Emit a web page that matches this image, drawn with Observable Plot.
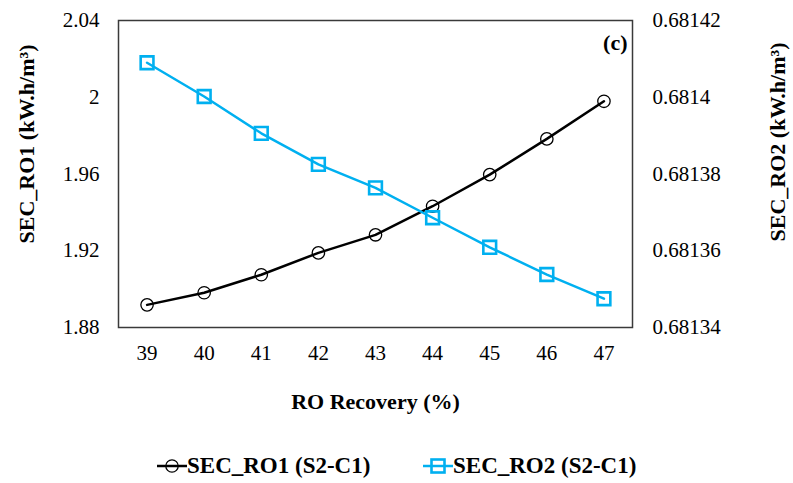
<!DOCTYPE html>
<html>
<head>
<meta charset="utf-8">
<script src="https://cdn.jsdelivr.net/npm/d3@7"></script>
<script src="https://cdn.jsdelivr.net/npm/@observablehq/plot@0.6"></script>
<style>
  html, body { margin: 0; padding: 0; background: #fff; }
  #wrap { position: relative; width: 793px; height: 483px; overflow: hidden; }
  #legend { position: absolute; left: 0; top: 448px; width: 793px; height: 35px;
            font-family: "Liberation Serif", "Times New Roman", serif;
            font-weight: bold; font-size: 23px; color: #000; }
  .item { position: absolute; top: 0; height: 35px; display: flex; align-items: center; white-space: nowrap; }
  .item svg { display: block; }
</style>
</head>
<body>
<div id="wrap">
  <div id="chart"></div>
  <div id="legend"></div>
</div>
<script>
// RO recovery (%) on the shared x axis
const recovery = [39, 40, 41, 42, 43, 44, 45, 46, 47];
// Specific energy consumption of the first RO stage (left axis, kW.h/m³)
const secRO1 = [1.8918, 1.8981, 1.9075, 1.9189, 1.9283, 1.9432, 1.9597, 1.9783, 1.9979];
// Specific energy consumption of the second RO stage (right axis, kW.h/m³)
const secRO2 = [0.681409, 0.6814002, 0.6813906, 0.6813825, 0.6813764, 0.6813686, 0.6813609, 0.6813538, 0.6813475];

const xTicks = recovery;
const leftTicks = [1.88, 1.92, 1.96, 2, 2.04];
const rightTicks = [0.68134, 0.68136, 0.68138, 0.6814, 0.68142];

const seriesNames = ["SEC_RO1 (S2-C1)", "SEC_RO2 (S2-C1)"];
const blue = "#00B0F0";
const serif = "'Liberation Serif', 'Times New Roman', serif";

// Right-axis values are drawn on the left scale through a linear map
const leftDomain = [leftTicks[0], leftTicks[leftTicks.length - 1]];
const rightDomain = [rightTicks[0], rightTicks[rightTicks.length - 1]];
const toLeft = v => leftDomain[0] + (v - rightDomain[0]) * (leftDomain[1] - leftDomain[0]) / (rightDomain[1] - rightDomain[0]);

const ro1 = recovery.map((r, i) => ({r, v: secRO1[i]}));
const ro2 = recovery.map((r, i) => ({r, v: toLeft(secRO2[i])}));

const chart = Plot.plot({
  width: 793,
  height: 448,
  marginLeft: 118,
  marginRight: 161,
  marginTop: 20,
  marginBottom: 121,
  style: {fontFamily: serif, fontSize: "21px", color: "#000", background: "#fff"},
  x: {domain: [recovery[0] - 0.5, recovery[recovery.length - 1] + 0.5]},
  y: {domain: leftDomain},
  marks: [
    Plot.frame({stroke: "#3a3a3a", strokeWidth: 1.5}),
    Plot.axisX(xTicks, {tickSize: 0, tickPadding: 18, label: null, tickFormat: d => String(d)}),
    Plot.axisY(leftTicks, {anchor: "left", tickSize: 0, tickPadding: 19, label: null, tickFormat: d => String(d)}),
    Plot.axisY(rightTicks.map(toLeft), {anchor: "right", tickSize: 0, tickPadding: 20, label: null,
      tickFormat: (d, i) => String(rightTicks[i])}),
    Plot.line(ro1, {x: "r", y: "v", stroke: "#000", strokeWidth: 2.5}),
    Plot.dot(ro1, {x: "r", y: "v", symbol: "circle", r: 6.2, stroke: "#000", strokeWidth: 1.3, fill: "none"}),
    Plot.line(ro2, {x: "r", y: "v", stroke: blue, strokeWidth: 2.5}),
    Plot.dot(ro2, {x: "r", y: "v", symbol: "square", r: 7.2, stroke: blue, strokeWidth: 2.6, fill: "none"}),
    Plot.text(["SEC_RO1 (kW.h/m³)"], {frameAnchor: "left", textAnchor: "middle", lineAnchor: "middle",
      rotate: -90, dx: -92, dy: -30, fontWeight: "bold", fontSize: 22}),
    Plot.text(["SEC_RO2 (kW.h/m³)"], {frameAnchor: "right", textAnchor: "middle", lineAnchor: "middle",
      rotate: -90, dx: 145, dy: -32, fontWeight: "bold", fontSize: 22}),
    Plot.text(["RO Recovery (%)"], {frameAnchor: "bottom", dy: 81, fontWeight: "bold", fontSize: 22}),
    Plot.text(["(c)"], {frameAnchor: "top-right", textAnchor: "end", lineAnchor: "middle", dx: -5, dy: 22,
      fontWeight: "bold", fontSize: 22})
  ]
});
document.getElementById("chart").appendChild(chart);

// Legend below the plot
const legend = d3.select("#legend");
const items = [
  {name: seriesNames[0], color: "#000", symbol: "circle", left: 157},
  {name: seriesNames[1], color: blue, symbol: "square", left: 423}
];
items.forEach(it => {
  const div = legend.append("div").attr("class", "item").style("left", it.left + "px");
  const s = div.append("svg").attr("width", 30).attr("height", 20);
  s.append("line").attr("x1", 0).attr("x2", 30).attr("y1", 10).attr("y2", 10)
    .attr("stroke", it.color).attr("stroke-width", 2.5);
  if (it.symbol === "circle") {
    s.append("circle").attr("cx", 15).attr("cy", 10).attr("r", 6.2)
      .attr("fill", "none").attr("stroke", it.color).attr("stroke-width", 1.3);
  } else {
    s.append("rect").attr("x", 8.5).attr("y", 3.5).attr("width", 13).attr("height", 13)
      .attr("fill", "none").attr("stroke", it.color).attr("stroke-width", 2.6);
  }
  div.append("span").text(it.name);
});
</script>
</body>
</html>
